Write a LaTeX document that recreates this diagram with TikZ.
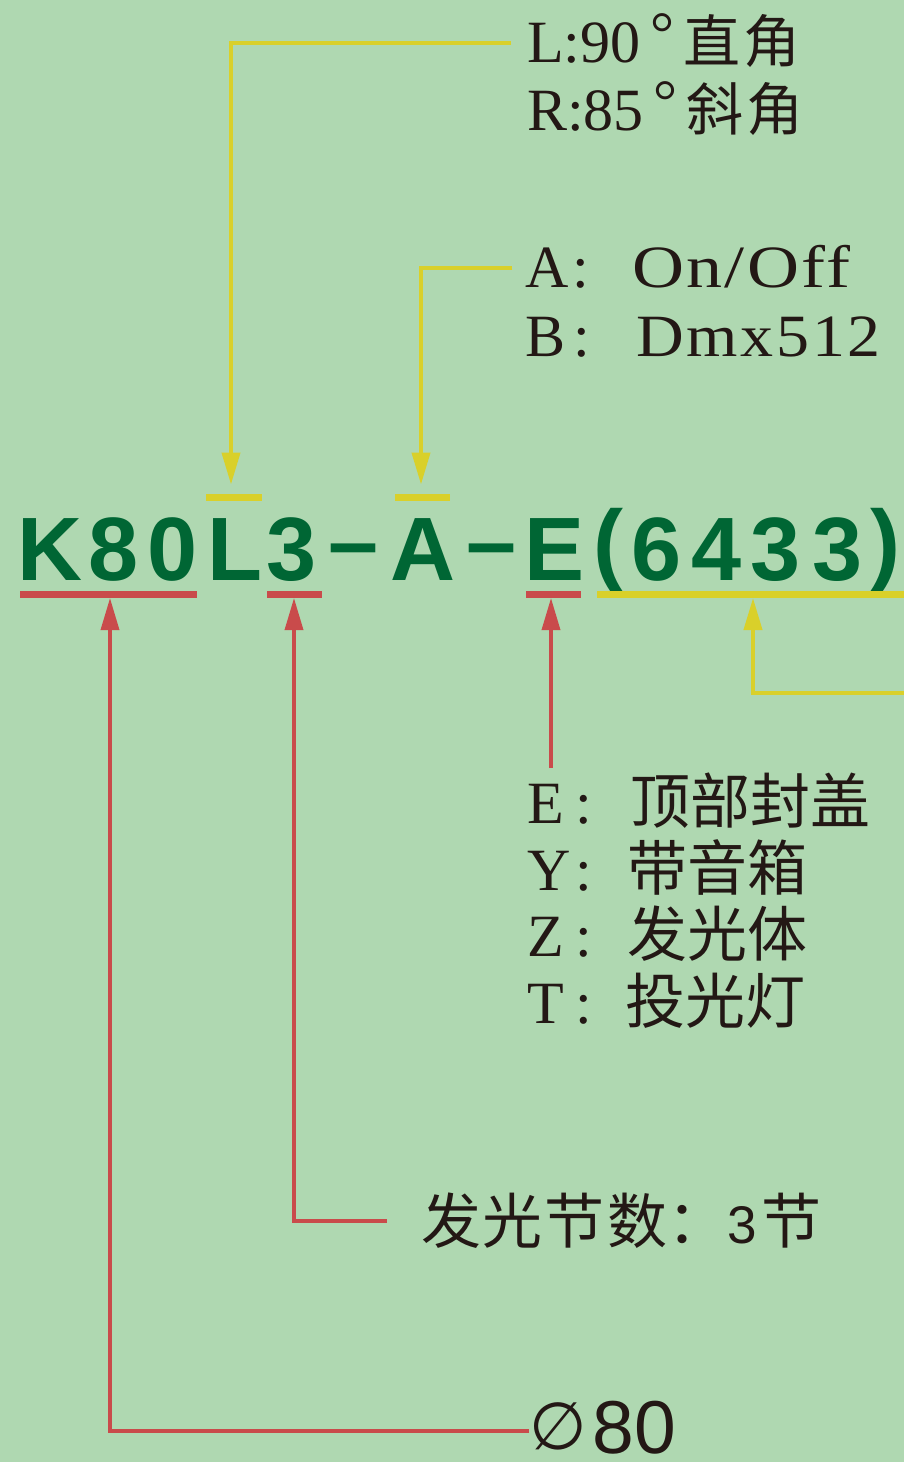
\documentclass[tikz,border=0pt]{standalone}
\usepackage{fontspec}
\setmainfont{Liberation Serif}
\newfontfamily\cjk{Noto Sans CJK SC}
\newfontfamily\lsans{Liberation Sans}
\newfontfamily\lsansb{Liberation Sans Bold}
\newfontfamily\dvs{DejaVu Sans}
\usetikzlibrary{arrows.meta}
\definecolor{bg}{HTML}{AFD8B1}
\definecolor{codegreen}{HTML}{006634}
\definecolor{redl}{HTML}{C94B4B}
\definecolor{yell}{HTML}{D9D02A}
\definecolor{txt}{HTML}{231815}
\newcommand{\cj}[1]{{\cjk\fontsize{60}{60}\selectfont #1}}
\newcommand{\cjs}[1]{{\cjk\fontsize{57}{57}\selectfont #1}}
\newcommand{\degr}{\hspace{10pt}\raisebox{9pt}{°}\hspace{9pt}}
\tikzset{
  lbl/.style={anchor=base west, inner sep=0pt, outer sep=0pt, text=txt, font=\fontsize{60}{60}\selectfont},
  code/.style={anchor=base, inner sep=0pt, outer sep=0pt, text=codegreen, font=\lsansb\fontsize{90}{90}\selectfont},
  bar/.style={inner sep=0pt, outer sep=0pt, minimum height=7pt, draw=none},
  rbar/.style={bar, fill=redl},
  ybar/.style={bar, fill=yell},
  rline/.style={draw=redl, line width=3.5pt},
  yline/.style={draw=yell, line width=4pt},
  tip/.style={-{Triangle[length=32pt,width=18pt]}},
}
\begin{document}
\begin{tikzpicture}[x=1pt,y=-1pt]
\fill[bg] (0,0) rectangle (904,1462);
\useasboundingbox (0,0) rectangle (904,1462);

% code characters
\foreach \c/\x/\y [count=\i] in {K/49.5/580, 8/114/580, 0/173/580, L/235/580, 3/292/580, {–}/354/572, A/423/580, {–}/492/572, E/555/580, {(}/608/573, 6/657/580, 4/717/580, 3/776/580, 3/838/580, {)}/885/573}
  \node[code] (ch\i) at (\x,\y) {\c};

% bars
\node[ybar, minimum width=56pt] (obL) at (234,497) {};
\node[ybar, minimum width=55pt] (obA) at (422.5,497) {};
\node[rbar, minimum width=177pt] (ubK) at (108.5,594.5) {};
\node[rbar, minimum width=55pt] (ub3) at (294.5,594.5) {};
\node[rbar, minimum width=55pt] (ubE) at (553.5,594.5) {};
\node[ybar, minimum width=310pt] (ub6) at (752,594.5) {};

% labels
\node[lbl] (lr1) at (527,62) {L:90\degr\cjs{直\hspace{3pt}角}};
\node[lbl] (lr2) at (527,130) {R:85\degr\cjs{斜\hspace{3pt}角}};
\node[lbl] (ab1) at (525,287) {\makebox[48pt][l]{A}:\hspace{43pt}\scalebox{1.2}[1]{\addfontfeatures{LetterSpace=3}On/Off}};
\node[lbl] (ab2) at (525,356) {\makebox[48pt][l]{B}:\hspace{47pt}\scalebox{1.1}[1]{\addfontfeatures{LetterSpace=4}Dmx512}};
\node[lbl] (e1) at (527,823) {\makebox[49pt][l]{E}:\hspace{38pt}\cj{顶部封盖}};
\node[lbl] (e2) at (527,890) {\makebox[49pt][l]{Y}:\hspace{35pt}\cj{带音箱}};
\node[lbl] (e3) at (527,956) {\makebox[49pt][l]{Z}:\hspace{35pt}\cj{发光体}};
\node[lbl] (e4) at (527,1023) {\makebox[49pt][l]{T}:\hspace{33pt}\cj{投光灯}};
\node[lbl] (n3) at (421,1243) {\cj{发\hspace{2pt}光\hspace{2pt}节\hspace{2pt}数：}{\lsans\fontsize{53}{53}\selectfont 3}\hspace{5pt}\cj{节}};
\node[lbl] (d80) at (529,1453) {\raisebox{4pt}{\dvs\fontsize{66}{66}\selectfont ∅}\hspace{6pt}{\lsans\fontsize{75}{75}\selectfont 80}};

% connector coordinates
\coordinate (lend) at (511,43);
\coordinate (lc) at (231,43);
\coordinate (aend) at (512,268);
\coordinate (ac) at (421,268);
\coordinate (kend) at (529,1431);
\coordinate (kc) at (110,1431);
\coordinate (tend) at (387,1221);
\coordinate (tc) at (294,1221);
\coordinate (eend) at (551,768);
\coordinate (yend) at (904,693);
\coordinate (yc) at (753,693);

% connectors
\draw[yline, tip, shorten >=9pt] (lend) -- (lc) -- (lc |- obL.north);
\draw[yline, tip, shorten >=9pt] (aend) -- (ac) -- (ac |- obA.north);
\draw[rline, tip] (kend) -- (kc) -- (kc |- ubK.south);
\draw[rline, tip] (tend) -- (tc) -- (tc |- ub3.south);
\draw[rline, tip] (eend) -- (eend |- ubE.south);
\draw[yline, tip] (yend) -- (yc) -- (yc |- ub6.south);
\end{tikzpicture}
\end{document}
